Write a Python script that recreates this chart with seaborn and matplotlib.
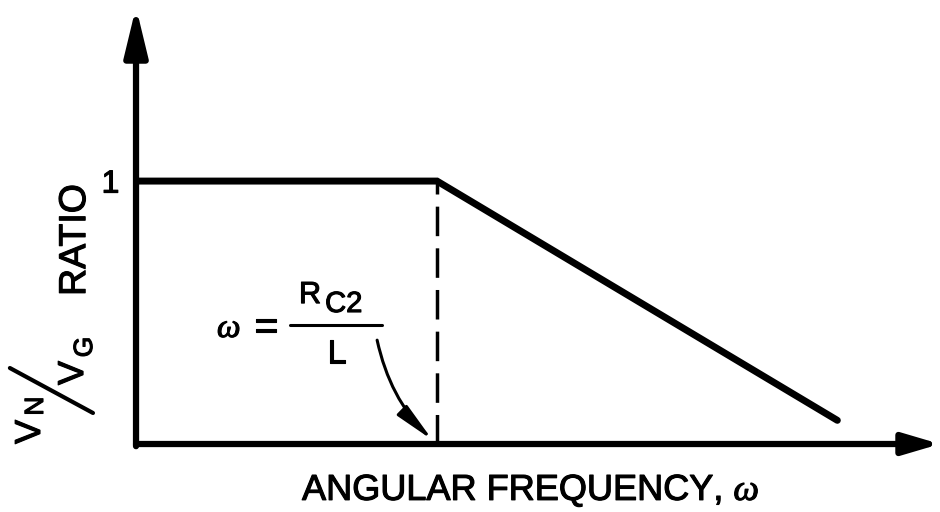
import matplotlib
matplotlib.use("Agg")
import matplotlib.pyplot as plt
import matplotlib.patheffects as pe
import seaborn as sns
import pandas as pd

# =========================
# VN/VG RATIO vs ANGULAR FREQUENCY (break at w = RC2 / L)
# =========================

# frequency normalised so that the corner w = RC2/L sits at 1
omega = [0.0, 1.0, 2.33]
ratio = [1.0, 1.0, 0.09]
corner = 1.0
ytick_vals = [1]
ytick_labels = ["1"]
xlabel = r"ANGULAR FREQUENCY, $\omega$"

sns.set_style("white")
plt.rcParams["font.family"] = ["Liberation Sans", "DejaVu Sans"]
plt.rcParams["mathtext.fontset"] = "custom"
plt.rcParams["mathtext.rm"] = "Liberation Sans"
plt.rcParams["mathtext.it"] = "Liberation Serif:italic"
plt.rcParams["text.color"] = "black"
plt.rcParams["axes.labelcolor"] = "black"
plt.rcParams["ytick.color"] = "black"

# slightly heavier letters, like the scanned lettering
heavy = [pe.withStroke(linewidth=0.8, foreground="black")]

fig = plt.figure(figsize=(9.4, 5.12), dpi=100)
ax = fig.add_axes([0.1447, 0.1328, 0.8553, 0.8535])

df = pd.DataFrame({"omega": omega, "ratio": ratio})
sns.lineplot(data=df, x="omega", y="ratio", color="black", lw=5, ax=ax,
             solid_capstyle="round", solid_joinstyle="miter")
ax.vlines(corner, 0, ratio[1], color="black", lw=2.5, linestyles=[(0, (8.5, 3.5))])

ax.set_xlim(0, 2.671)
ax.set_ylim(0, 1.662)
for s in ax.spines.values():
    s.set_visible(False)
ax.set_xticks([])
ax.set_yticks(ytick_vals, ytick_labels, fontsize=23)
for t in ax.get_yticklabels():
    t.set_path_effects(heavy)
ax.tick_params(axis="y", length=0, pad=12)
ax.set_xlabel(xlabel, fontsize=26, path_effects=heavy)
ax.xaxis.set_label_coords(0.491, -0.128)
ax.xaxis.label.set_va("baseline")
ax.set_ylabel("")

# axes drawn as arrows
ax.annotate("", xy=(1, 0), xytext=(0, 0), xycoords="axes fraction",
            annotation_clip=False,
            arrowprops=dict(arrowstyle="-|>,head_length=22,head_width=6.5",
                            mutation_scale=1, lw=4.5, color="black",
                            shrinkA=0, shrinkB=0))
ax.annotate("", xy=(0, 1), xytext=(0, -0.005), xycoords="axes fraction",
            annotation_clip=False,
            arrowprops=dict(arrowstyle="-|>,head_length=29,head_width=7",
                            mutation_scale=1, lw=4.5, color="black",
                            shrinkA=0, shrinkB=0))

# y label: VN / VG  RATIO
ylab = dict(rotation=90, rotation_mode="anchor", ha="center", va="baseline",
            path_effects=heavy)
ax.text(-0.169, 0.776, "RATIO", fontsize=27, **ylab)
ax.text(-0.176, 0.270, "V", fontsize=26, **ylab)
ax.text(-0.146, 0.369, "G", fontsize=19, **ylab)
ax.text(-0.319, 0.046, "V", fontsize=26, **ylab)
ax.text(-0.309, 0.144, "N", fontsize=19, **ylab)
ax.plot([-0.419, -0.143], [0.289, 0.118], color="black", lw=3, clip_on=False)

# annotation w = RC2 / L
ann = dict(ha="center", va="baseline", path_effects=heavy)
ax.text(0.309, 0.407, r"$\omega$", fontsize=24, **ann)
ax.text(0.432, 0.399, "=", fontsize=30, **ann)
ax.text(0.578, 0.536, "R", fontsize=22, **ann)
ax.text(0.690, 0.502, "C2", fontsize=21, **ann)
ax.plot([0.512, 0.817], [0.452, 0.452], color="black", lw=2.2)
ax.text(0.666, 0.308, "L", fontsize=24, **ann)
ax.annotate("", xy=(0.985, 0.015), xytext=(0.801, 0.395),
            arrowprops=dict(arrowstyle="-|>,head_length=24,head_width=4.2",
                            mutation_scale=1, lw=2.2, color="black",
                            connectionstyle="arc3,rad=0.15",
                            shrinkA=0, shrinkB=0))

fig.savefig("out.png", dpi=100)
plt.close(fig)
